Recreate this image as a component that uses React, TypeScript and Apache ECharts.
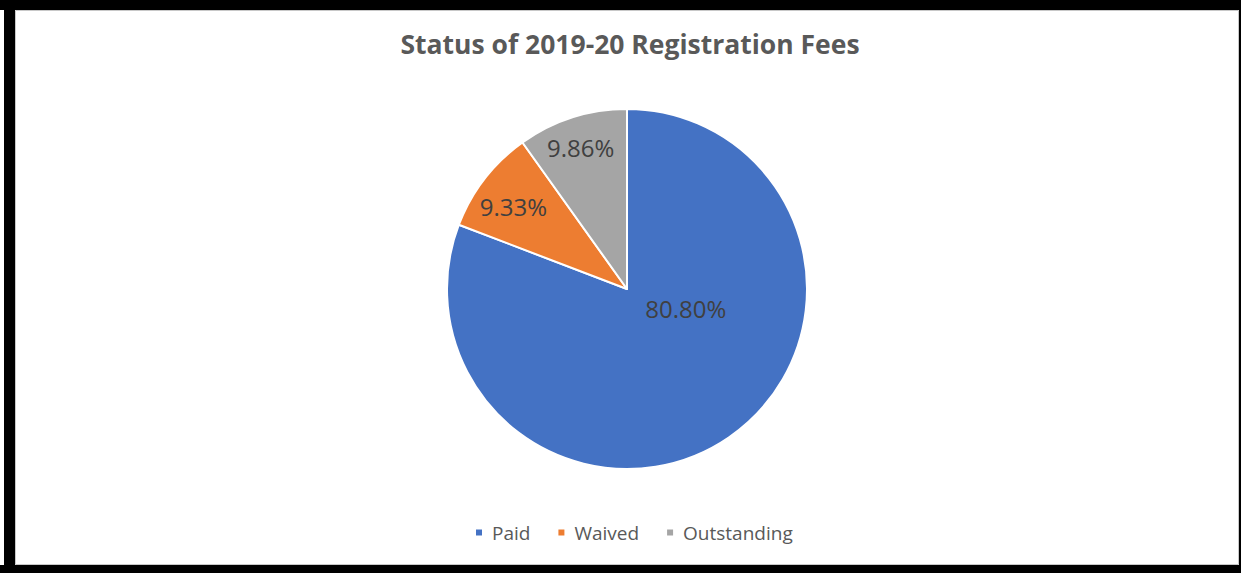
import React, { useEffect, useRef } from "react";
import * as echarts from "echarts";

const titleText = "Status of 2019-20 Registration Fees";
const categories = ["Paid", "Waived", "Outstanding"];
const values = [80.8, 9.33, 9.86];
const colors = ["#4472C4", "#ED7D31", "#A5A5A5"];

// label nudges (px) to mimic Excel best-fit placement
const labelNudge: Record<string, [number, number]> = {
  Paid: [6, -57],
  Waived: [-40, -26],
  Outstanding: [-18, -53],
};

export default function App() {
  const ref = useRef<HTMLDivElement>(null);
  useEffect(() => {
    if (!ref.current) return;
    const chart = echarts.init(ref.current, null, { renderer: "svg" });
    const W = 1241;
    const H = 573;
    chart.setOption({
      animation: false,
      backgroundColor: "#ffffff",
      title: {
        text: titleText,
        left: 625,
        textAlign: "center",
        top: 25,
        textStyle: {
          fontFamily: "Open Sans",
          fontWeight: "bold",
          fontSize: 26.5,
          color: "#595959",
        },
      },
      legend: {
        bottom: 26,
        left: 469,
        itemWidth: 8,
        itemHeight: 8,
        itemGap: 26,
        icon: "rect",
        textStyle: {
          fontFamily: "Open Sans",
          fontSize: 19,
          color: "#595959",
          padding: [0, 0, 0, 4],
        },
        data: categories,
      },
      color: colors,
      graphic: [
        { type: "rect", shape: { x: 0, y: 0, width: W, height: 10 }, style: { fill: "#000" } },
        { type: "rect", shape: { x: 4, y: 0, width: 11, height: H }, style: { fill: "#000" } },
        { type: "rect", shape: { x: 0, y: 565, width: W, height: 8 }, style: { fill: "#000" } },
        { type: "rect", shape: { x: 1239, y: 0, width: 2, height: H }, style: { fill: "#000" } },
        {
          type: "rect",
          shape: { x: 15.5, y: 10.5, width: 1223, height: 554 },
          style: { fill: "none", stroke: "#c8c8c8", lineWidth: 1 },
        },
      ],
      series: [
        {
          type: "pie",
          center: [627, 289],
          radius: 180,
          startAngle: 90,
          clockwise: true,
          itemStyle: { borderColor: "#ffffff", borderWidth: 2 },
          label: {
            show: true,
            position: "inside",
            formatter: (p: any) => p.value.toFixed(2) + "%",
            fontFamily: "Open Sans",
            fontSize: 24,
            color: "#404040",
          },
          labelLine: { show: false },
          labelLayout: (p: any) => {
            const n = labelNudge[categories[p.dataIndex]] || [0, 0];
            return { dx: n[0], dy: n[1] };
          },
          data: categories.map((c, i) => ({ name: c, value: values[i] })),
        },
      ],
    });
    return () => chart.dispose();
  }, []);
  return (
    <div
      ref={ref}
      style={{ position: "fixed", left: 0, top: 0, width: 1241, height: 573 }}
    />
  );
}
